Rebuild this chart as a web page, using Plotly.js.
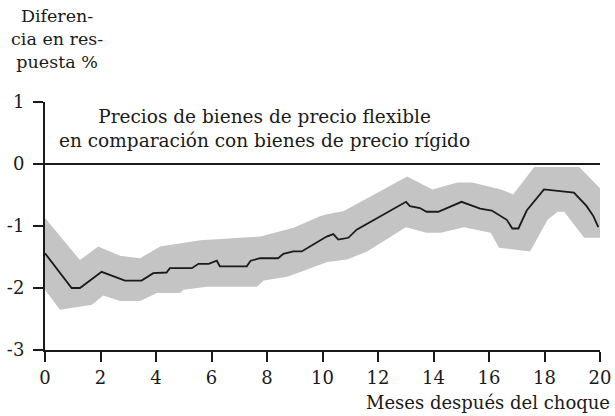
<!DOCTYPE html>
<html>
<head>
<meta charset="utf-8">
<script src="https://cdn.plot.ly/plotly-3.0.1.min.js"></script>
<style>html,body{margin:0;padding:0;background:#fff;}#chart{width:615px;height:416px;}</style>
</head>
<body>
<div id="chart"></div>
<script>
// Point estimate (months after shock, % difference)
var lineX = [0, 0.96, 1.26, 2.04, 2.88, 3.48, 3.9, 4.38, 4.5, 5.29, 5.53, 5.9, 6.19, 6.3, 7.27, 7.41, 7.75, 8.4, 8.59, 8.95, 9.25, 10.15, 10.39, 10.57, 10.93, 11.23, 13.01, 13.15, 13.51, 13.75, 14.17, 15.01, 15.68, 16.1, 16.64, 16.84, 17.06, 17.36, 17.98, 19.06, 19.52, 19.76, 19.94];
var lineY = [-1.44, -2.0, -2.0, -1.74, -1.88, -1.88, -1.76, -1.75, -1.68, -1.68, -1.61, -1.61, -1.56, -1.65, -1.65, -1.56, -1.52, -1.52, -1.45, -1.41, -1.41, -1.17, -1.13, -1.22, -1.19, -1.06, -0.61, -0.68, -0.71, -0.77, -0.77, -0.61, -0.72, -0.75, -0.9, -1.04, -1.04, -0.75, -0.41, -0.46, -0.68, -0.84, -1.02];
// Upper confidence bound
var upperX = [0, 1.26, 1.92, 2.7, 3.43, 4.15, 5.6, 6.8, 7.76, 8.96, 9.93, 10.17, 10.77, 13.05, 13.96, 14.86, 15.4, 16.43, 16.87, 17.63, 19.25, 20.0];
var upperY = [-0.87, -1.55, -1.33, -1.48, -1.52, -1.33, -1.23, -1.19, -1.17, -1.03, -0.84, -0.81, -0.76, -0.2, -0.41, -0.3, -0.3, -0.41, -0.49, -0.05, -0.05, -0.39];
// Lower confidence bound
var lowerX = [0, 0.54, 1.69, 2.1, 2.7, 3.43, 4.03, 4.87, 4.99, 5.84, 7.64, 7.88, 8.72, 9.2, 10.17, 10.89, 11.61, 13.0, 13.75, 14.26, 15.1, 16.06, 16.36, 17.48, 18.11, 18.47, 18.71, 19.43, 20.0];
var lowerY = [-2.03, -2.35, -2.27, -2.12, -2.21, -2.21, -2.08, -2.08, -2.03, -1.98, -1.98, -1.88, -1.82, -1.74, -1.58, -1.54, -1.41, -1.02, -1.11, -1.11, -1.02, -1.11, -1.35, -1.41, -0.9, -0.77, -0.77, -1.19, -1.19];

var xTickVals = [0, 2, 4, 6, 8, 10, 12, 14, 16, 18, 20];
var xTickText = ['0', '2', '4', '6', '8', '10', '12', '14', '16', '18', '20'];
var yTickVals = [-3, -2, -1, 0, 1];
var yTickText = ['-3', '-2', '-1', '0', '1'];

var titleText = 'Precios de bienes de precio flexible<br>en comparación con bienes de precio rígido';
var yTitleText = 'Diferen-<br>cia en res-<br>puesta %';
var xTitleText = 'Meses después del choque';

var bandX = upperX.concat(lowerX.slice().reverse());
var bandY = upperY.concat(lowerY.slice().reverse());

var FONT = 'DejaVu Serif';
var TXT = '#1a1a1a';
var traces = [
  {x: bandX, y: bandY, type: 'scatter', mode: 'lines', fill: 'toself',
   fillcolor: '#c4c4c4', line: {width: 0, color: '#c4c4c4'}, hoverinfo: 'skip'},
  {x: lineX, y: lineY, type: 'scatter', mode: 'lines',
   line: {color: '#1a1a1a', width: 1.8}}
];

var layout = {
  width: 615, height: 416,
  margin: {l: 45, r: 15, t: 102, b: 66},
  paper_bgcolor: '#fff', plot_bgcolor: '#fff',
  showlegend: false,
  font: {family: FONT, size: 17, color: TXT},
  xaxis: {
    range: [0, 20], tickmode: 'array', tickvals: xTickVals, ticktext: xTickText,
    showgrid: false, zeroline: false, showline: true, linecolor: '#1a1a1a', linewidth: 2,
    ticks: 'outside', ticklen: 10, tickwidth: 2, tickcolor: '#1a1a1a',
    ticklabelstandoff: 0,
    tickfont: {family: FONT, size: 18, color: TXT}
  },
  yaxis: {
    range: [-3, 1], tickmode: 'array', tickvals: yTickVals, ticktext: yTickText,
    showgrid: false, zeroline: true, zerolinecolor: '#1a1a1a', zerolinewidth: 2,
    showline: true, linecolor: '#1a1a1a', linewidth: 2,
    ticks: 'outside', ticklen: 10, tickwidth: 2, tickcolor: '#1a1a1a',
    ticklabelstandoff: 5,
    tickfont: {family: FONT, size: 18, color: TXT}
  },
  annotations: [
    {text: titleText, xref: 'paper', yref: 'paper', x: 0.396, y: 0.99,
     xanchor: 'center', yanchor: 'top', showarrow: false, align: 'center',
     font: {family: FONT, size: 18.5, color: TXT}},
    {text: yTitleText, xref: 'paper', yref: 'paper', x: 0, xshift: 12, y: 1, yshift: 98,
     xanchor: 'center', yanchor: 'top', showarrow: false, align: 'center',
     font: {family: FONT, size: 17.5, color: TXT}},
    {text: xTitleText, xref: 'paper', yref: 'paper', x: 1, xshift: 12, y: 0, yshift: -40,
     xanchor: 'right', yanchor: 'top', showarrow: false, align: 'right',
     font: {family: FONT, size: 18, color: TXT}}
  ]
};

Plotly.newPlot('chart', traces, layout, {staticPlot: true, displayModeBar: false});
</script>
</body>
</html>
